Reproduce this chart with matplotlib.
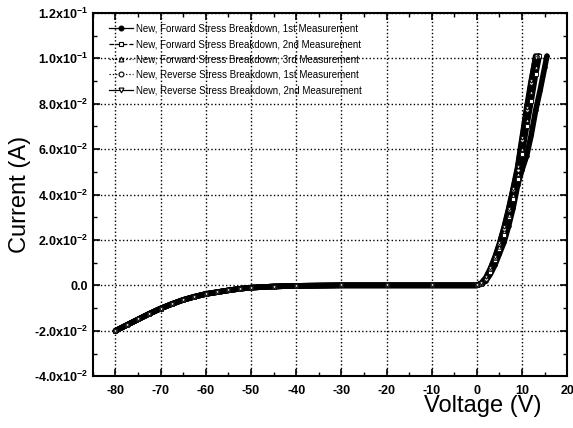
import numpy as np
import matplotlib
matplotlib.use("Agg")
import matplotlib.pyplot as plt
from matplotlib.ticker import MultipleLocator, FuncFormatter

plt.rcParams['font.family'] = ['Liberation Sans', 'DejaVu Sans']
plt.rcParams['mathtext.fontset'] = 'custom'
plt.rcParams['mathtext.rm'] = 'Liberation Sans:bold'
plt.rcParams['mathtext.bf'] = 'Liberation Sans:bold'

# reverse-bias side (shared by all measurements, they overlap)
v_neg = [-80, -77.5, -75, -72.5, -70, -67.5, -65, -62.5, -60, -57.5, -55,
         -52.5, -50, -45, -40, -30, -20, -10, 0]
i_neg = [-0.0200, -0.0175, -0.0150, -0.0125, -0.0102, -0.0082, -0.0064,
         -0.0050, -0.0038, -0.0030, -0.0022, -0.0015, -0.0010, -0.0005,
         -0.0002, 0.0, 0.0, 0.0, 0.0]

# forward side
v_fwd1 = [1, 2, 3, 4, 5, 6, 7, 8, 9, 10, 11, 12, 13, 14, 15, 15.5]
i_fwd1 = [0.0005, 0.002, 0.005, 0.009, 0.014, 0.019, 0.026, 0.034, 0.044,
          0.051, 0.057, 0.066, 0.077, 0.086, 0.096, 0.101]
v_fwd2 = [1, 2, 3, 4, 5, 6, 7, 8, 9, 10, 11, 12, 13, 13.8]
i_fwd2 = [0.0008, 0.003, 0.006, 0.011, 0.016, 0.022, 0.030, 0.038, 0.047,
          0.058, 0.070, 0.081, 0.093, 0.101]
v_fwd3 = [1, 2, 3, 4, 5, 6, 7, 8, 9, 10, 11, 12, 13, 13.5]
i_fwd3 = [0.0009, 0.003, 0.007, 0.012, 0.017, 0.024, 0.031, 0.040, 0.049,
          0.060, 0.073, 0.085, 0.096, 0.101]
v_rev1 = [1, 2, 3, 4, 5, 6, 7, 8, 9, 10, 11, 12, 13]
i_rev1 = [0.001, 0.003, 0.007, 0.012, 0.018, 0.025, 0.033, 0.042, 0.051,
          0.064, 0.077, 0.089, 0.101]
v_rev2 = [1, 2, 3, 4, 5, 6, 7, 8, 9, 10, 11, 12, 13]
i_rev2 = [0.001, 0.0035, 0.0075, 0.0125, 0.0185, 0.0255, 0.0335, 0.0425,
          0.052, 0.065, 0.078, 0.090, 0.100]

labels = ["New, Forward Stress Breakdown, 1st Measurement",
          "New, Forward Stress Breakdown, 2nd Measurement",
          "New, Forward Stress Breakdown, 3rd Measurement",
          "New, Reverse Stress Breakdown, 1st Measurement",
          "New, Reverse Stress Breakdown, 2nd Measurement"]

fig = plt.figure(figsize=(5.73, 4.28), dpi=100)
ax = fig.add_axes([0.162, 0.121, 0.828, 0.849])

styles = [('-', 'o', 'k'), ('--', 's', 'w'), (':', '^', 'w'),
          (':', 'o', 'w'), ('-', 'v', 'w')]
series = [(v_fwd1, i_fwd1), (v_fwd2, i_fwd2), (v_fwd3, i_fwd3),
          (v_rev1, i_rev1), (v_rev2, i_rev2)]

for (vp, ip), (ls, mk, mfc), lab in zip(series, styles, labels):
    v = v_neg + vp
    i = i_neg + ip
    ax.plot(v, i, color='k', lw=4, zorder=2, solid_capstyle='round')
    ax.plot(v, i, ls='none', marker=mk, ms=2.5, mfc=mfc, mec='k', mew=0.6,
            zorder=3)

# legend proxies
handles = []
for (ls, mk, mfc) in styles:
    h, = ax.plot([], [], ls=ls, marker=mk, color='k', lw=0.9, ms=3.5,
                 mfc=mfc, mec='k', mew=0.8)
    handles.append(h)
ax.legend(handles, labels, loc='upper left', bbox_to_anchor=(0.035, 0.97),
          frameon=False, fontsize=7, handlelength=2.4, handletextpad=0.3,
          labelspacing=0.55, borderpad=0, borderaxespad=0)

ax.set_xlim(-85, 20)
ax.set_ylim(-0.04, 0.12)
ax.xaxis.set_major_locator(MultipleLocator(10))
ax.xaxis.set_minor_locator(MultipleLocator(5))
ax.yaxis.set_major_locator(MultipleLocator(0.02))
ax.yaxis.set_minor_locator(MultipleLocator(0.01))


def yfmt(y, pos):
    if abs(y) < 1e-9:
        return "0.0"
    e = int(np.floor(np.log10(abs(y)) + 1e-9))
    m = y / 10 ** e
    return r"%.1fx10$^{%d}$" % (m, e)


ax.yaxis.set_major_formatter(FuncFormatter(yfmt))
ax.xaxis.set_major_formatter(FuncFormatter(lambda x, p: "%d" % x))

ax.tick_params(which='both', direction='in', top=True, right=True)
ax.tick_params(which='major', length=5, width=1.2, labelsize=9)
ax.tick_params(axis='x', which='major', pad=6)
ax.tick_params(which='minor', length=3, width=1)
for lab in ax.get_xticklabels() + ax.get_yticklabels():
    lab.set_fontweight('bold')
for s in ax.spines.values():
    s.set_linewidth(1.5)

ax.grid(True, which='major', ls=':', color='k', lw=1)
ax.set_axisbelow(True)

ax.set_ylabel("Current (A)", fontsize=17, labelpad=2)
fig.text(0.843, 0.025, "Voltage (V)", fontsize=17, ha='center', va='bottom')

fig.savefig("out.png", dpi=100)
